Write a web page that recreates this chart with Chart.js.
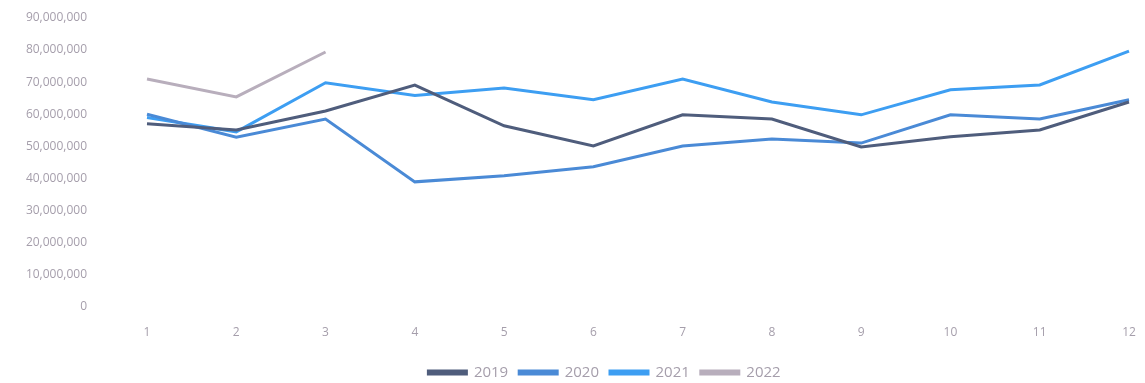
<!DOCTYPE html>
<html>
<head>
<meta charset="utf-8">
<script src="https://cdn.jsdelivr.net/npm/chart.js@4/dist/chart.umd.min.js"></script>
<style>
    html, body { margin: 0; padding: 0; background: #fff; }
    #wrap { width: 1145px; height: 383px; position: relative; }
</style>
</head>
<body>
<div id="wrap"><canvas id="salesChart"></canvas></div>
<script>
(function () {
    'use strict';

    // ── DATA ───────────────────────────────────────────────────────────────
    const MONTHS = ['1','2','3','4','5','6','7','8','9','10','11','12'];
    const SALES_2019 = [57000000, 55100000, 61000000, 69100000, 56400000, 50100000, 59800000, 58500000, 49800000, 53000000, 55100000, 63800000];
    const SALES_2020 = [60000000, 52800000, 58500000, 38900000, 40800000, 43600000, 50100000, 52300000, 51000000, 59800000, 58500000, 64500000];
    const SALES_2021 = [59000000, 54500000, 69800000, 65800000, 68200000, 64500000, 71000000, 63800000, 59800000, 67600000, 69100000, 79700000];
    const SALES_2022 = [71000000, 65400000, 79400000];

    // ── COLORS ─────────────────────────────────────────────────────────────
    const SLATE  = '#4f5d7c';
    const MID    = '#4a8ad6';
    const BRIGHT = '#3d9ef2';
    const MAUVE  = '#b8aebc';
    const TEXT   = '#a59eab';

    const FONT   = { family: '"Open Sans", "Noto Sans", sans-serif', size: 12 };
    const LFONT  = { family: '"Open Sans", "Noto Sans", sans-serif', size: 15 };

    function series(label, data, color) {
        return {
            label,
            data,
            borderColor: color,
            backgroundColor: color,
            borderWidth: 3,
            pointRadius: 0,
            pointHoverRadius: 0,
            tension: 0,
            fill: false
        };
    }

    // legend: a bit lower than its padding allows, centred under the plot
    const legendNudge = {
        id: 'legendNudge',
        afterInit(chart) {
            const lg = chart.legend;
            if (!lg) return;
            const fit = lg.fit;
            lg.fit = function () {
                fit.call(this);
                this.height -= 7;
            };
        },
        afterLayout(chart) {
            if (chart.legend) chart.legend.left += 80;
        }
    };

    new Chart(document.getElementById('salesChart'), {
        type: 'line',
        data: {
            labels: MONTHS,
            datasets: [
                series('2019', SALES_2019, SLATE),
                series('2020', SALES_2020, MID),
                series('2021', SALES_2021, BRIGHT),
                series('2022', SALES_2022, MAUVE)
            ]
        },
        plugins: [legendNudge],
        options: {
            responsive: true,
            maintainAspectRatio: false,
            animation: false,
            layout: { padding: { top: 18, right: 16, left: 0, bottom: 0 } },
            plugins: {
                legend: {
                    position: 'bottom',
                    labels: {
                        boxWidth: 38,
                        boxHeight: 3,
                        padding: 11,
                        color: TEXT,
                        font: LFONT
                    }
                },
                tooltip: { enabled: false }
            },
            scales: {
                x: {
                    offset: false,
                    // tick marks hidden, tickLength only spaces the labels
                    grid: { display: false, drawTicks: true, tickLength: 17 },
                    border: { display: false },
                    afterFit: scale => { scale.height += 12; },
                    ticks: {
                        color: TEXT,
                        font: FONT,
                        padding: 2,
                        maxRotation: 0
                    }
                },
                y: {
                    min: 0,
                    max: 90000000,
                    grid: { display: false, drawTicks: true, tickLength: 57 },
                    border: { display: false },
                    afterFit: scale => { scale.width = 147; },
                    ticks: {
                        stepSize: 10000000,
                        color: TEXT,
                        font: FONT,
                        padding: 3,
                        callback: v => v.toLocaleString('en-US')
                    }
                }
            }
        }
    });
})();
</script>
</body>
</html>
